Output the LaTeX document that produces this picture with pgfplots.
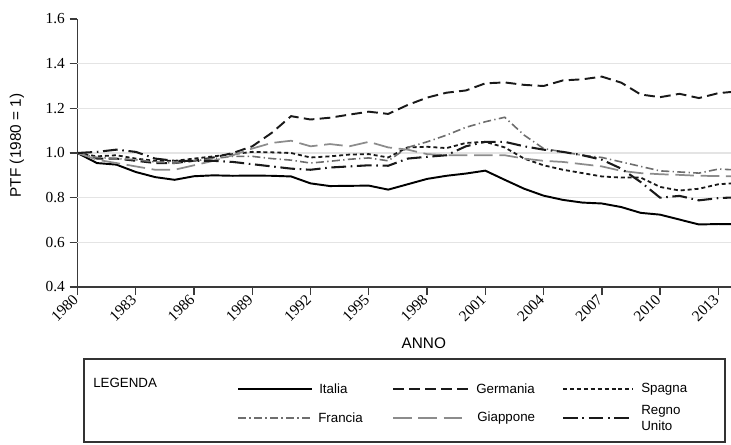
\documentclass[border=0pt]{standalone}
\usepackage{fontspec}
\setmainfont{Liberation Sans}
\newfontfamily\tickfont{Liberation Serif}
\usepackage{pgfplots}
\pgfplotsset{compat=1.18}
\definecolor{fgray}{HTML}{6E6E6E}
\definecolor{ggray}{HTML}{8C8C8C}
\definecolor{gridgray}{HTML}{E4E4E4}
\definecolor{axgray}{HTML}{3A3A3A}
\tikzset{
 italia/.style={black, line width=1.45pt},
 germania/.style={black!90, line width=1.45pt, dash pattern=on 8pt off 4pt},
 spagna/.style={black!90, line width=1.35pt, dash pattern=on 3pt off 2.2pt},
 francia/.style={fgray, line width=1.2pt, dash pattern=on 6pt off 2.5pt on 1pt off 2.5pt},
 giappone/.style={ggray, line width=1.3pt, dash pattern=on 14pt off 5pt},
 regno/.style={black!90, line width=1.55pt, dash pattern=on 11pt off 3.5pt on 1.2pt off 3.5pt},
}
\begin{document}
\begin{tikzpicture}
\begin{axis}[
 at={(0,0)}, anchor=south west,
 scale only axis, width=490.1pt, height=201pt,
 xmin=1980, xmax=2013.65, ymin=0.4, ymax=1.6,
 axis lines=left, axis line style={-, axgray, line width=1.1pt},
 xtick={1980,1983,1986,1989,1992,1995,1998,2001,2004,2007,2010,2013},
 ytick={0.4,0.6,0.8,1.0,1.2,1.4,1.6},
 extra y ticks={0.6,0.8,1.0,1.2,1.4}, extra y tick labels={},
 extra y tick style={grid=major, major grid style={gridgray, line width=1.1pt}},
 tick align=outside, major tick length=6pt,
 tick style={axgray, line width=1pt},
 /pgf/number format/assume math mode=true,
 tick label style={font=\tickfont\fontsize{11.5}{13}\selectfont},
 xticklabel style={rotate=45, anchor=east, inner sep=2pt, /pgf/number format/1000 sep={}},
 yticklabel style={/pgf/number format/fixed, /pgf/number format/fixed zerofill, /pgf/number format/precision=1},
 xlabel={ANNO}, ylabel={PTF (1980 = 1)},
 label style={font=\fontsize{11.5}{13}\selectfont},
 xlabel style={at={(axis description cs:0.530,-0.208)}, anchor=center},
 ylabel style={at={(axis description cs:-0.0926,0.528)}, anchor=center},
]
% Italia
\addplot[italia] coordinates {
(1980,1.000) (1981,0.955) (1982,0.948) (1983,0.915) (1984,0.892) (1985,0.880)
(1986,0.896) (1987,0.900) (1988,0.898) (1989,0.899) (1990,0.898) (1991,0.895)
(1992,0.864) (1993,0.852) (1994,0.853) (1995,0.854) (1996,0.836) (1997,0.860)
(1998,0.884) (1999,0.898) (2000,0.908) (2001,0.921) (2002,0.880) (2003,0.840)
(2004,0.809) (2005,0.790) (2006,0.778) (2007,0.774) (2008,0.758) (2009,0.732)
(2010,0.724) (2011,0.702) (2012,0.680) (2013,0.682) (2014,0.681)};
% Germania
\addplot[germania] coordinates {
(1980,1.000) (1981,0.975) (1982,0.975) (1983,0.965) (1984,0.955) (1985,0.955)
(1986,0.965) (1987,0.980) (1988,1.000) (1989,1.030) (1990,1.090) (1991,1.165)
(1992,1.150) (1993,1.158) (1994,1.172) (1995,1.185) (1996,1.175) (1997,1.215)
(1998,1.248) (1999,1.270) (2000,1.280) (2001,1.312) (2002,1.316) (2003,1.305)
(2004,1.300) (2005,1.325) (2006,1.330) (2007,1.342) (2008,1.315) (2009,1.262)
(2010,1.250) (2011,1.265) (2012,1.246) (2013,1.268) (2014,1.276)};
% Spagna
\addplot[spagna] coordinates {
(1980,1.000) (1981,0.985) (1982,0.990) (1983,0.975) (1984,0.965) (1985,0.965)
(1986,0.975) (1987,0.985) (1988,0.995) (1989,1.005) (1990,1.003) (1991,1.000)
(1992,0.980) (1993,0.985) (1994,0.993) (1995,0.995) (1996,0.980) (1997,1.025)
(1998,1.028) (1999,1.022) (2000,1.045) (2001,1.050) (2002,1.025) (2003,0.975)
(2004,0.945) (2005,0.925) (2006,0.910) (2007,0.895) (2008,0.890) (2009,0.890)
(2010,0.848) (2011,0.832) (2012,0.840) (2013,0.860) (2014,0.866)};
% Francia
\addplot[francia] coordinates {
(1980,1.000) (1981,0.980) (1982,0.975) (1983,0.970) (1984,0.960) (1985,0.955)
(1986,0.965) (1987,0.975) (1988,0.985) (1989,0.985) (1990,0.975) (1991,0.968)
(1992,0.955) (1993,0.963) (1994,0.972) (1995,0.978) (1996,0.965) (1997,1.025)
(1998,1.050) (1999,1.080) (2000,1.115) (2001,1.140) (2002,1.160) (2003,1.080)
(2004,1.020) (2005,1.005) (2006,0.990) (2007,0.980) (2008,0.960) (2009,0.940)
(2010,0.920) (2011,0.915) (2012,0.910) (2013,0.928) (2014,0.924)};
% Giappone
\addplot[giappone] coordinates {
(1980,1.000) (1981,0.970) (1982,0.955) (1983,0.940) (1984,0.925) (1985,0.925)
(1986,0.945) (1987,0.965) (1988,0.990) (1989,1.020) (1990,1.045) (1991,1.055)
(1992,1.030) (1993,1.040) (1994,1.030) (1995,1.050) (1996,1.025) (1997,1.015)
(1998,0.995) (1999,0.990) (2000,0.990) (2001,0.990) (2002,0.990) (2003,0.975)
(2004,0.965) (2005,0.960) (2006,0.950) (2007,0.940) (2008,0.920) (2009,0.910)
(2010,0.905) (2011,0.902) (2012,0.898) (2013,0.897) (2014,0.895)};
% Regno Unito
\addplot[regno] coordinates {
(1980,1.000) (1981,1.005) (1982,1.015) (1983,1.005) (1984,0.975) (1985,0.965)
(1986,0.965) (1987,0.965) (1988,0.960) (1989,0.950) (1990,0.940) (1991,0.930)
(1992,0.925) (1993,0.935) (1994,0.940) (1995,0.945) (1996,0.943) (1997,0.975)
(1998,0.983) (1999,0.990) (2000,1.030) (2001,1.050) (2002,1.050) (2003,1.030)
(2004,1.015) (2005,1.005) (2006,0.990) (2007,0.970) (2008,0.930) (2009,0.870)
(2010,0.800) (2011,0.808) (2012,0.788) (2013,0.798) (2014,0.802)};
\end{axis}
\pgfresetboundingbox
\begin{scope}[x=0.75pt, y=-0.75pt, shift={(-58.125pt,215.25pt)},
  lt/.style={anchor=west, inner sep=0pt, font=\fontsize{10}{11.5}\selectfont}]
 \path[use as bounding box] (0,0) rectangle (731,444);
 \draw[black!80, line width=1pt] (84,359) rectangle (725,442);
 \node[anchor=base west, inner sep=0pt, font=\fontsize{10}{11.5}\selectfont] at (93,387) {LEGENDA};
 \draw[italia] (238,389) -- (312,389);   \node[lt] at (319,389) {Italia};
 \draw[germania] (393,389) -- (468,389); \node[lt] at (476,389) {Germania};
 \draw[spagna] (563,389) -- (633,389);   \node[lt] at (641,389) {Spagna};
 \draw[francia] (238,418) -- (312,418);  \node[lt] at (318,418) {Francia};
 \draw[giappone] (393,418) -- (468,418); \node[lt] at (477,418) {Giappone};
 \draw[regno] (563,418) -- (633,418);    \node[lt, align=left] at (641,418) {Regno\\Unito};
\end{scope}
\end{tikzpicture}
\end{document}
